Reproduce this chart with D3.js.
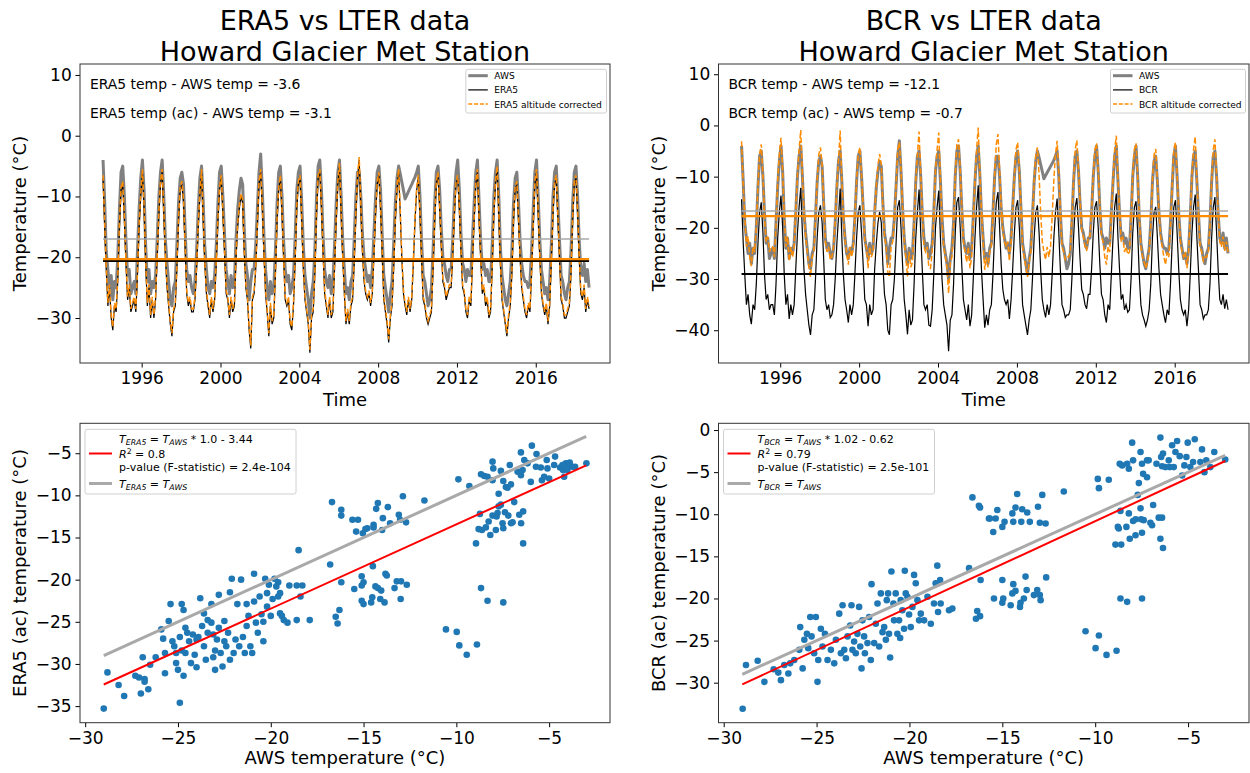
<!DOCTYPE html>
<html>
<head>
<meta charset="utf-8">
<script src="https://cdn.jsdelivr.net/npm/d3@7"></script>
<style>
  body { margin: 0; background: #fff; }
  svg { display: block; }
</style>
</head>
<body>
<div id="chart"></div>
<script>
// Monthly temperatures, Jan 1994 - Sep 2018 (one row per year)
var awsTemp = [
  -4, -11, -19, -22, -25, -23, -27, -24, -25, -20, -12, -6,
  -5, -10, -17, -23, -22, -26, -25, -24, -26, -19, -12, -7,
  -4, -9, -18, -24, -22, -26, -24, -25, -23, -17, -10, -6,
  -4, -10, -17, -21, -24, -27, -28, -25, -24, -18, -11, -7,
  -6, -8, -15, -22, -24, -23, -25, -26, -24, -19, -12, -7,
  -5, -11, -18, -22, -25, -26, -24, -25, -23, -18, -11, -6,
  -5, -10, -16, -22, -24, -26, -23, -25, -24, -17, -12, -9,
  -7, -8, -15, -21, -23, -27, -24, -22, -22, -18, -12, -6,
  -3, -9, -16, -22, -25, -27, -24, -26, -25, -19, -11, -6,
  -5, -10, -17, -22, -24, -23, -26, -25, -23, -17, -9, -6,
  -5, -11, -18, -23, -25, -27, -30, -26, -24, -19, -10, -5,
  -4, -9, -16, -22, -24, -25, -23, -26, -24, -18, -11, -6,
  -4, -10, -17, -22, -26, -25, -27, -24, -23, -17, -10, -6,
  -6, -10, -16, -20, -22, -24, -23, -25, -22, -16, -10, -6,
  -5, -9, -16, -23, -25, -27, -29, -26, -24, -18, -11, -7,
  -5, -6.3, -7.6, -9, -10.4, -9.8, -9.2, -8.6, -8, -7.4, -6.8, -6,
  -5, -10, -17, -23, -24, -26, -28, -27, -25, -19, -11, -6,
  -5, -9, -15, -20, -21, -23, -24, -22, -22, -17, -10, -6,
  -4, -9, -16, -21, -22, -24, -22, -23, -23, -17, -11, -6,
  -4, -11, -17, -22, -21, -23, -22, -24, -24, -18, -10, -6,
  -4, -10, -18, -23, -25, -27, -28, -26, -24, -19, -11, -7,
  -6, -11, -17, -21, -23, -24, -24, -25, -24, -19, -12, -6,
  -4, -10, -17, -22, -24, -26, -25, -27, -24, -18, -10, -6,
  -5, -11, -17, -23, -24, -26, -27, -25, -24, -19, -11, -6,
  -5, -10, -17, -22, -23, -21, -24, -22, -25
];

var era5Temp = [
  -7, -15, -22, -28, -25, -30, -32, -28, -29, -24, -15, -9,
  -8, -14, -21, -27, -25, -29, -28, -27, -29, -23, -15, -10,
  -6, -12, -21, -28, -25, -30, -27, -30, -27, -20, -13, -8,
  -6, -13, -20, -25, -28, -31, -33, -29, -28, -22, -14, -9,
  -8, -11, -18, -26, -28, -27, -29, -29, -27, -22, -15, -10,
  -6, -14, -21, -26, -28, -30, -27, -29, -27, -21, -14, -9,
  -7, -13, -19, -26, -27, -30, -27, -29, -28, -20, -15, -12,
  -10, -11, -19, -25, -27, -32, -35, -27, -26, -22, -15, -8,
  -6, -12, -19, -26, -29, -33, -28, -31, -30, -23, -14, -9,
  -7, -13, -20, -27, -28, -27, -31, -32, -28, -21, -12, -8,
  -7, -14, -22, -27, -29, -31, -35.7, -30, -29, -23, -13, -7,
  -6, -12, -19, -26, -28, -30, -27, -30, -29, -22, -14, -8,
  -5, -13, -20, -26, -31, -29, -31, -28, -27, -21, -13, -7,
  -4, -12, -19, -24, -26, -27, -26, -28, -26, -20, -13, -8,
  -6.5, -12, -19, -27, -29, -31, -34, -30, -28, -22, -14, -9,
  -6, -13, -20, -26, -28, -29.5, -27, -29, -27, -21, -14, -9,
  -7, -13, -20, -27, -28, -30, -31, -30, -29, -22, -14, -8,
  -6.5, -12, -18, -24, -25, -27, -26, -25, -25, -20, -13, -8,
  -7, -12, -19, -25, -26, -29, -30, -27, -28, -21, -14, -8,
  -6, -14, -20, -26, -25, -28, -27, -30, -29, -22, -13, -8,
  -5.5, -13, -21, -27, -29, -31, -33, -30, -28, -23, -14, -9,
  -8, -14, -20, -25, -27, -29, -30, -28, -29, -23, -15, -8,
  -6, -13, -20, -26, -28, -29.5, -28, -31, -28, -21, -13, -8,
  -7, -14, -20, -27, -28, -30, -30, -29, -28, -23, -14, -8,
  -7, -13, -20, -26, -27, -25, -29, -27, -28.5
];

var era5AcTemp = [
  -6.5, -14.5, -21.5, -27.5, -24.5, -29.5, -31.5, -27.5, -28.5, -23.5, -14.5, -8.5,
  -7.5, -13.5, -20.5, -26.5, -24.5, -28.5, -27.5, -26.5, -28.5, -22.5, -14.5, -9.5,
  -5.5, -11.5, -20.5, -27.5, -24.5, -29.5, -26.5, -29.5, -26.5, -19.5, -12.5, -7.5,
  -5.5, -12.5, -19.5, -24.5, -27.5, -30.5, -32.5, -28.5, -27.5, -21.5, -13.5, -8.5,
  -7.5, -10.5, -17.5, -25.5, -27.5, -26.5, -28.5, -28.5, -26.5, -21.5, -14.5, -9.5,
  -5.5, -13.5, -20.5, -25.5, -27.5, -29.5, -26.5, -28.5, -26.5, -20.5, -13.5, -8.5,
  -6.5, -12.5, -18.5, -25.5, -26.5, -29.5, -26.5, -28.5, -27.5, -19.5, -14.5, -11.5,
  -9.5, -10.5, -18.5, -24.5, -26.5, -31.5, -34.5, -26.5, -25.5, -21.5, -14.5, -7.5,
  -5.5, -11.5, -18.5, -25.5, -28.5, -32.5, -27.5, -30.5, -29.5, -22.5, -13.5, -8.5,
  -6.5, -12.5, -19.5, -26.5, -27.5, -26.5, -30.5, -31.5, -27.5, -20.5, -11.5, -7.5,
  -6.5, -13.5, -21.5, -26.5, -28.5, -30.5, -35.2, -29.5, -28.5, -22.5, -12.5, -6.5,
  -5.5, -11.5, -18.5, -25.5, -27.5, -29.5, -26.5, -29.5, -28.5, -21.5, -13.5, -7.5,
  -4.5, -12.5, -19.5, -25.5, -30.5, -28.5, -30.5, -27.5, -26.5, -20.5, -12.5, -6.5,
  -3.5, -11.5, -18.5, -23.5, -25.5, -26.5, -25.5, -27.5, -25.5, -19.5, -12.5, -7.5,
  -6, -11.5, -18.5, -26.5, -28.5, -30.5, -33.5, -29.5, -27.5, -21.5, -13.5, -8.5,
  -5.5, -12.5, -19.5, -25.5, -27.5, -29, -26.5, -28.5, -26.5, -20.5, -13.5, -8.5,
  -6.5, -12.5, -19.5, -26.5, -27.5, -29.5, -30.5, -29.5, -28.5, -21.5, -13.5, -7.5,
  -6, -11.5, -17.5, -23.5, -24.5, -26.5, -25.5, -24.5, -24.5, -19.5, -12.5, -7.5,
  -6.5, -11.5, -18.5, -24.5, -25.5, -28.5, -29.5, -26.5, -27.5, -20.5, -13.5, -7.5,
  -5.5, -13.5, -19.5, -25.5, -24.5, -27.5, -26.5, -29.5, -28.5, -21.5, -12.5, -7.5,
  -5, -12.5, -20.5, -26.5, -28.5, -30.5, -32.5, -29.5, -27.5, -22.5, -13.5, -8.5,
  -7.5, -13.5, -19.5, -24.5, -26.5, -28.5, -29.5, -27.5, -28.5, -22.5, -14.5, -7.5,
  -5.5, -12.5, -19.5, -25.5, -27.5, -29, -27.5, -30.5, -27.5, -20.5, -12.5, -7.5,
  -6.5, -13.5, -19.5, -26.5, -27.5, -29.5, -29.5, -28.5, -27.5, -22.5, -13.5, -7.5,
  -6.5, -12.5, -19.5, -25.5, -26.5, -24.5, -28.5, -26.5, -28
];

var bcrTemp = [
  -14.4, -23, -29, -35, -33, -37, -38.8, -35, -36, -31, -23, -17,
  -15, -21, -29, -34, -33, -36, -35, -35, -37, -31, -22, -17,
  -13.7, -20, -29, -35, -33, -37.8, -35, -37, -35, -28, -21, -16,
  -12.2, -21, -28, -33, -36, -39, -40.9, -37, -36, -30, -22, -17,
  -15.6, -19, -26, -34, -36, -35, -37.5, -37, -35, -30, -23, -18,
  -12.3, -22, -29, -34, -36, -38.5, -35, -37, -35, -29, -22, -17,
  -15.6, -21, -27, -34, -35, -39.2, -35, -37, -36, -28, -23, -19,
  -16.9, -19, -27, -33, -35, -40, -40.9, -35, -34, -30, -23, -16,
  -14.6, -20, -27, -34, -37, -40.8, -36, -39, -38, -31, -22, -17,
  -12.5, -21, -28, -35, -36, -35, -39, -39.2, -36, -29, -20, -16,
  -12.7, -22, -30, -35, -37, -39, -44.1, -38, -37, -31, -21, -15,
  -14, -20, -27, -34, -36, -38, -35, -39.2, -37, -30, -22, -16,
  -11.7, -21, -28, -34, -39.5, -37, -39, -36, -35, -29, -21, -15,
  -13, -20, -27, -32, -34, -35, -34, -37.8, -34, -28, -21, -16,
  -14.6, -20, -27, -35, -37, -39, -40.9, -38, -36, -30, -22, -17,
  -15.6, -21, -28, -34, -36, -37.5, -35, -37, -35, -29, -22, -17,
  -14.3, -21, -28, -35, -36, -37.5, -37, -37, -36, -30, -22, -16,
  -14.2, -20, -26, -32, -33, -35, -35.8, -33, -33, -28, -21, -16,
  -14.8, -20, -27, -33, -34, -37, -38.5, -35, -36, -29, -22, -16,
  -13.3, -22, -28, -34, -33, -36, -35, -36.5, -36, -30, -21, -16,
  -14.8, -21, -29, -35, -37, -38, -39.2, -38, -36, -31, -22, -17,
  -15.9, -22, -28, -33, -35, -37, -38.5, -36, -37, -31, -23, -16,
  -14.6, -21, -28, -34, -36, -37, -36, -39.2, -36, -29, -21, -16,
  -13.5, -22, -28, -35, -36, -37.8, -37, -37, -36, -31, -22, -16,
  -14, -21, -28, -34, -35, -33, -35.8, -34, -36
];

var bcrAcTemp = [
  -3.1, -11.7, -17.7, -23.7, -21.7, -25.7, -27.5, -23.7, -24.7, -19.7, -11.7, -5.7,
  -3.7, -9.7, -17.7, -22.7, -21.7, -24.7, -23.7, -23.7, -25.7, -19.7, -10.7, -5.7,
  -2.4, -8.7, -17.7, -23.7, -21.7, -26.5, -23.7, -25.7, -23.7, -16.7, -9.7, -4.7,
  -0.9, -9.7, -16.7, -21.7, -24.7, -27.7, -29.6, -25.7, -24.7, -18.7, -10.7, -5.7,
  -4.3, -7.7, -14.7, -22.7, -24.7, -23.7, -26.2, -25.7, -23.7, -18.7, -11.7, -6.7,
  -1.0, -10.7, -17.7, -22.7, -24.7, -27.2, -23.7, -25.7, -23.7, -17.7, -10.7, -5.7,
  -4.3, -9.7, -15.7, -22.7, -23.7, -27.9, -23.7, -25.7, -24.7, -16.7, -11.7, -7.7,
  -5.6, -7.7, -15.7, -21.7, -23.7, -28.7, -29.6, -23.7, -22.7, -18.7, -11.7, -4.7,
  -3.3, -8.7, -15.7, -22.7, -25.7, -29.5, -24.7, -27.7, -26.7, -19.7, -10.7, -5.7,
  -1.2, -9.7, -16.7, -23.7, -24.7, -23.7, -27.7, -27.9, -24.7, -17.7, -8.7, -4.7,
  -1.4, -10.7, -18.7, -23.7, -25.7, -27.7, -32.8, -26.7, -25.7, -19.7, -9.7, -3.7,
  -2.7, -8.7, -15.7, -22.7, -24.7, -26.7, -23.7, -27.9, -25.7, -18.7, -10.7, -4.7,
  -0.4, -9.7, -16.7, -22.7, -28.2, -25.7, -27.7, -24.7, -23.7, -17.7, -9.7, -3.7,
  -1.7, -8.7, -15.7, -20.7, -22.7, -23.7, -22.7, -26.5, -22.7, -16.7, -9.7, -4.7,
  -3.3, -8.7, -15.7, -23.7, -25.7, -27.7, -29.6, -26.7, -24.7, -18.7, -10.7, -5.7,
  -4.3, -9.7, -16.7, -22.7, -24.7, -26.2, -23.7, -25.7, -23.7, -17.7, -10.7, -5.7,
  -3.0, -9.7, -16.7, -23.7, -24.7, -26.2, -25.7, -25.7, -24.7, -18.7, -10.7, -4.7,
  -2.9, -8.7, -14.7, -20.7, -21.7, -23.7, -24.5, -21.7, -21.7, -16.7, -9.7, -4.7,
  -3.5, -8.7, -15.7, -21.7, -22.7, -25.7, -27.2, -23.7, -24.7, -17.7, -10.7, -4.7,
  -2.0, -10.7, -16.7, -22.7, -21.7, -24.7, -23.7, -25.2, -24.7, -18.7, -9.7, -4.7,
  -3.5, -9.7, -17.7, -23.7, -25.7, -26.7, -27.9, -26.7, -24.7, -19.7, -10.7, -5.7,
  -4.6, -10.7, -16.7, -21.7, -23.7, -25.7, -27.2, -24.7, -25.7, -19.7, -11.7, -4.7,
  -3.3, -9.7, -16.7, -22.7, -24.7, -25.7, -24.7, -27.9, -24.7, -17.7, -9.7, -4.7,
  -2.2, -10.7, -16.7, -23.7, -24.7, -26.5, -25.7, -25.7, -24.7, -19.7, -10.7, -4.7,
  -2.7, -9.7, -16.7, -22.7, -23.7, -21.7, -24.5, -22.7, -24.7
];

// Series means (horizontal lines)
var era5PanelMeans = {aws: -17.0, model: -20.6, ac: -20.3};
var bcrPanelMeans = {aws: -16.7, model: -29.0, ac: -17.7};

// Scatter: [AWS temperature, corrected reanalysis temperature]
var era5Scatter = [
  [-29.0,-35.3],[-28.8,-31.0],[-28.2,-32.5],[-27.9,-33.8],[-27.3,-31.4],[-27.1,-31.6],[-26.8,-31.8],[-26.8,-32.1],
  [-27.0,-33.5],[-26.6,-33.0],[-26.9,-29.2],[-26.5,-30.1],[-26.2,-29.2],[-25.9,-25.9],[-25.8,-27.0],[-25.7,-28.7],
  [-25.7,-31.1],[-25.5,-24.9],[-25.4,-22.9],[-25.2,-27.9],[-25.3,-27.3],[-25.1,-29.9],[-25.1,-28.7],[-25.0,-30.7],
  [-24.9,-34.6],[-24.9,-26.8],[-24.8,-28.4],[-24.8,-22.9],[-24.7,-23.6],[-24.7,-31.4],[-24.6,-25.7],[-24.6,-28.7],
  [-24.5,-26.3],[-24.4,-27.3],[-24.3,-29.9],[-24.2,-26.5],[-24.1,-28.9],[-24.0,-30.4],[-24.0,-27.1],[-23.9,-26.8],
  [-23.8,-22.2],[-23.7,-25.5],[-23.6,-24.0],[-23.6,-27.9],[-23.5,-29.5],[-23.4,-24.8],[-23.4,-26.3],[-23.2,-22.9],
  [-23.2,-25.1],[-23.1,-29.2],[-23.1,-26.5],[-23.0,-28.4],[-23.0,-30.7],[-22.9,-27.1],[-22.8,-21.8],[-22.8,-25.7],
  [-22.7,-28.7],[-22.6,-30.3],[-22.5,-24.9],[-22.5,-27.3],[-22.4,-27.9],[-22.3,-26.3],[-22.2,-29.5],[-22.2,-21.5],
  [-22.1,-19.9],[-22.0,-28.7],[-21.9,-27.1],[-21.8,-22.9],[-21.7,-27.9],[-21.6,-20.0],[-21.5,-26.8],[-21.4,-28.7],
  [-21.3,-25.5],[-21.3,-22.9],[-21.2,-24.3],[-21.1,-27.9],[-21.0,-28.7],[-20.9,-19.3],[-20.9,-22.6],[-20.8,-25.1],
  [-20.7,-26.3],[-20.6,-22.0],[-20.5,-24.1],[-20.4,-27.3],[-20.4,-25.0],[-20.3,-19.9],[-20.2,-21.6],[-20.2,-23.2],
  [-20.1,-20.6],[-20.0,-24.3],[-19.9,-22.3],[-19.8,-19.9],[-19.7,-20.8],[-19.6,-22.0],[-19.6,-20.3],[-19.5,-24.0],
  [-19.5,-21.6],[-19.4,-24.3],[-19.3,-24.8],[-19.1,-25.1],[-19.0,-20.7],[-18.6,-24.8],[-18.6,-20.7],[-18.5,-16.5],
  [-18.4,-22.0],[-18.3,-20.7],[-17.9,-24.8],[-16.8,-18.2],[-16.7,-10.8],[-16.2,-11.7],[-16.2,-12.4],[-15.6,-12.9],
  [-15.3,-12.9],[-15.4,-14.3],[-14.8,-13.9],[-16.5,-24.4],[-16.4,-25.2],[-16.3,-23.6],[-16.2,-20.3],[-15.5,-21.1],
  [-15.1,-20.7],[-15.1,-19.6],[-15.0,-20.3],[-15.1,-22.5],[-15.0,-22.9],
  [-15.04,-14.5],[-14.9,-14.0],[-14.46,-13.5],[-14.46,-13.8],[-14.32,-11.6],[-14.23,-10.9],[-13.96,-12.7],[-14.0,-14.1],
  [-13.69,-11.4],[-13.57,-13.3],[-13.1,-12.3],[-13.03,-12.9],[-12.71,-13.2],[-12.88,-10.1],[-11.72,-10.6],[-9.89,-8.1],
  [-9.3,-8.9],[-14.5,-18.4],[-14.53,-22.1],[-14.59,-22.7],[-14.36,-20.8],[-14.23,-21.0],[-14.05,-21.3],[-14.1,-22.3],
  [-13.87,-22.7],[-13.82,-19.3],[-13.75,-19.5],[-13.33,-21.0],[-13.21,-20.2],[-12.98,-20.2],[-12.67,-20.6],[-13.0,-22.3],
  [-10.56,-25.9],[-9.98,-26.2],[-9.84,-27.8],[-9.44,-28.9],[-8.89,-27.7],[-8.67,-21.0],[-8.32,-22.5],[-7.47,-22.7],
  [-8.94,-15.7],[-8.8,-14.0],[-8.73,-12.2],[-8.62,-14.1],[-8.41,-13.8],[-8.17,-14.7],[-8.26,-13.1],[-8.05,-12.4],
  [-7.87,-14.1],[-7.83,-12.5],[-7.78,-12.1],[-7.72,-11.3],[-7.6,-11.1],[-7.51,-13.3],[-7.47,-13.9],[-7.38,-12.0],
  [-7.2,-12.4],[-7.06,-13.3],[-6.97,-13.2],[-6.88,-10.8],[-6.61,-12.3],[-6.51,-13.3],[-6.4,-11.9],[-6.4,-15.7],
  [-7.72,-9.8],[-8.67,-7.5],[-8.49,-7.7],[-8.32,-7.8],[-8.05,-6.0],[-8.01,-6.8],[-8.05,-8.2],[-7.6,-7.1],
  [-7.47,-8.3],[-7.33,-9.0],[-7.24,-9.1],[-7.12,-6.4],[-7.06,-8.7],[-6.7,-7.2],[-6.52,-7.6],[-6.52,-4.9],
  [-6.43,-7.0],[-6.34,-5.8],[-6.16,-6.2],[-5.99,-8.4],[-5.93,-4.1],[-5.68,-5.1],[-5.71,-6.6],[-5.45,-6.7],
  [-5.39,-8.2],[-5.27,-7.8],[-5.13,-5.8],[-5.09,-6.8],[-5.0,-8.0],[-4.73,-6.4],[-4.68,-5.4],[-4.41,-6.7],
  [-4.25,-7.0],[-4.19,-7.8],[-4.1,-6.2],[-3.96,-6.6],[-3.89,-6.1],[-3.75,-6.6],[-3.6,-6.6],[-2.99,-6.2],
  [-4.28,-6.4],[-4.02,-7.0]
];

var bcrScatter = [
  [-28.98,-33.1],[-28.8,-27.9],[-28.17,-27.4],[-27.81,-29.9],[-27.31,-28.4],[-27.06,-28.8],[-26.92,-29.7],[-26.74,-27.9],
  [-26.52,-28.9],[-26.42,-27.7],[-26.2,-27.3],[-25.93,-26.1],[-25.88,-23.4],[-25.75,-28.3],[-25.66,-24.9],[-25.52,-24.2],
  [-25.45,-25.9],[-25.34,-22.2],[-25.27,-24.5],[-25.13,-26.5],[-25.04,-22.2],[-24.95,-29.9],[-24.91,-27.3],[-24.77,-23.6],
  [-24.68,-25.7],[-24.55,-24.2],[-24.41,-27.3],[-24.23,-26.1],[-24.05,-27.7],[-23.96,-24.9],[-23.78,-21.8],[-23.69,-26.5],
  [-23.6,-20.8],[-23.51,-26.1],[-23.42,-27.1],[-23.33,-24.5],[-23.19,-23.2],[-23.12,-20.8],[-23.07,-26.1],[-22.98,-25.1],
  [-22.89,-26.5],[-22.8,-24.2],[-22.71,-21.0],[-22.65,-25.7],[-22.58,-28.3],[-22.53,-22.6],[-22.44,-24.5],[-22.4,-26.5],
  [-22.26,-25.3],[-22.17,-22.2],[-22.08,-27.3],[-22.04,-18.3],[-21.9,-25.3],[-21.81,-23.0],[-21.72,-20.6],[-21.63,-25.7],
  [-21.54,-19.4],[-21.45,-24.0],[-21.36,-23.4],[-21.27,-24.9],[-21.22,-20.2],[-21.15,-19.4],[-21.1,-24.2],[-21.04,-27.0],
  [-20.97,-16.8],[-20.86,-20.6],[-20.83,-22.6],[-20.74,-19.4],[-20.65,-24.2],[-20.56,-22.6],[-20.5,-24.7],[-20.47,-20.2],
  [-20.38,-21.4],[-20.29,-23.6],[-20.25,-16.7],[-20.2,-19.4],[-20.11,-19.8],[-20.02,-21.9],[-19.93,-23.4],[-19.84,-21.0],
  [-19.75,-17.2],[-19.66,-18.2],[-19.57,-20.2],[-19.48,-22.6],[-19.39,-21.8],[-19.21,-22.6],[-19.03,-19.8],[-18.85,-23.0],
  [-18.68,-20.6],[-18.59,-18.2],[-18.5,-16.1],[-18.46,-21.6],[-18.35,-17.8],[-18.32,-20.6],[-17.87,-21.4],[-17.69,-21.2],
  [-16.79,-16.4],[-16.17,-17.8],[-16.35,-21.5],[-16.42,-22.4],[-16.2,-22.1],[-16.61,-8.0],[-16.26,-9.0],[-16.2,-9.2],
  [-15.72,-10.5],[-15.67,-10.5],[-15.36,-10.5],[-15.27,-9.5],[-15.49,-12.1],[-15.0,-11.5],[-14.88,-10.9],[-14.46,-9.9],
  [-14.41,-10.9],[-14.29,-9.2],[-14.2,-7.6],[-13.98,-10.9],[-13.93,-9.4],[-13.66,-9.8],[-13.52,-10.9],[-13.08,-9.1],
  [-12.98,-11.0],[-12.85,-7.7],[-12.67,-11.1],[-11.69,-7.3],
  [-15.45,-20.0],[-15.0,-17.8],[-15.0,-20.5],[-14.95,-20.0],[-14.55,-20.8],[-14.41,-18.3],[-14.46,-19.4],[-14.29,-19.1],
  [-14.05,-21.0],[-14.02,-20.5],[-13.84,-20.0],[-13.75,-17.4],[-13.69,-19.0],[-13.3,-19.6],[-13.12,-19.0],[-12.98,-19.6],
  [-12.94,-20.2],[-12.64,-17.5],
  [-10.52,-23.9],[-9.8,-24.4],[-9.98,-25.9],[-9.39,-26.7],[-8.85,-26.2],[-8.64,-20.0],[-8.28,-20.4],[-7.48,-20.0],
  [-9.86,-5.8],[-9.8,-6.9],[-9.27,-5.9],[-8.91,-13.6],[-8.6,-13.6],[-8.73,-11.7],[-8.78,-11.5],[-8.64,-9.6],
  [-8.32,-11.5],[-8.14,-12.9],[-8.19,-9.9],[-7.96,-10.8],[-7.83,-12.5],[-7.82,-10.6],[-7.71,-7.7],[-7.65,-6.3],
  [-7.56,-9.3],[-7.53,-10.6],[-7.48,-12.2],[-7.42,-5.2],[-7.39,-10.7],[-7.21,-5.6],[-7.03,-11.0],[-6.94,-11.3],
  [-6.88,-8.9],[-6.58,-10.4],[-6.49,-12.9],[-6.4,-10.4],[-6.35,-14.0],
  [-8.68,-4.0],[-8.55,-4.2],[-8.28,-4.0],[-8.19,-4.6],[-8.01,-1.5],[-7.96,-3.6],[-7.56,-2.6],[-7.48,-4.0],
  [-7.21,-3.6],[-7.12,-3.6],[-6.7,-4.0],[-6.49,-0.9],[-6.45,-3.2],[-6.35,-2.8],[-6.4,-4.3],[-6.22,-4.4],
  [-6.04,-3.6],[-5.99,-4.4],[-5.86,-1.8],[-5.68,-2.6],[-5.77,-4.4],[-5.59,-1.3],[-5.45,-3.1],[-5.32,-5.4],
  [-5.2,-4.2],[-5.09,-3.2],[-5.02,-1.5],[-4.88,-4.4],[-4.73,-3.8],[-4.64,-1.1],[-4.34,-3.8],[-4.25,-2.3],
  [-4.12,-5.0],[-4.02,-3.6],[-3.8,-4.4],[-3.59,-2.6],[-3.0,-3.5]
];

// Regression fits (slope, intercept) and the AWS range they cover
var era5Fit = [1.0, -3.44];
var bcrFit = [1.02, -0.62];
var fitRange = [-29, -3];

var timeTickYears = [1996, 2000, 2004, 2008, 2012, 2016];
var scatterXTicks = [-30, -25, -20, -15, -10, -5];

// ---- layout ----
var FONT = "DejaVu Sans, sans-serif";
var width = 1250, height = 773;
var cols = [{x0: 80, x1: 610}, {x0: 718.5, x1: 1249}];
var topRow = {y0: 64, y1: 363};
var botRow = {y0: 423.3, y1: 722.7};
var colors = {aws: "#808080", model: "#000000", ac: "#ff8c00", awsMean: "#a8a8a8", dot: "#1f77b4", fit: "#ff0000", oneToOne: "#a9a9a9"};

var months = d3.range(awsTemp.length).map((i) => new Date(1994, i, 15));

var svg = d3.select("#chart").append("svg")
            .attr("width", width).attr("height", height)
            .style("font-family", FONT);

function styleAxis(g) {
  g.select(".domain").remove();
  g.selectAll(".tick line").attr("stroke", "#000").attr("stroke-width", 1);
  g.selectAll(".tick text").attr("fill", "#000").attr("font-size", 17).attr("font-family", FONT);
}

function frame(c, row) {
  svg.append("rect")
     .attr("x", c.x0).attr("y", row.y0)
     .attr("width", c.x1 - c.x0).attr("height", row.y1 - row.y0)
     .attr("fill", "none").attr("stroke", "#333").attr("stroke-width", 1);
}

function yLabel(x, row, label) {
  svg.append("text")
     .attr("transform", "translate(" + x + "," + ((row.y0 + row.y1) / 2) + ") rotate(-90)")
     .attr("text-anchor", "middle").attr("font-size", 18)
     .text(label);
}

function timePanel(c, p) {
  var x = d3.scaleTime().domain([new Date(1992, 10, 14), new Date(2019, 9, 8)]).range([c.x0, c.x1]);
  var y = d3.scaleLinear().domain(p.yDomain).range([topRow.y1, topRow.y0]);

  svg.append("g").attr("transform", "translate(0," + topRow.y1 + ")")
     .call(d3.axisBottom(x).tickValues(timeTickYears.map((yr) => new Date(yr, 0, 1)))
             .tickFormat(d3.timeFormat("%Y")).tickSize(4.5).tickPadding(4.9))
     .call(styleAxis);
  svg.append("g").attr("transform", "translate(" + c.x0 + ",0)")
     .call(d3.axisLeft(y).tickValues(p.yTicks).tickSize(4.5).tickPadding(3.8))
     .call(styleAxis);

  var line = d3.line().x((d, i) => x(months[i])).y((d) => y(d));

  svg.append("path").datum(awsTemp).attr("d", line)
     .attr("fill", "none").attr("stroke", colors.aws).attr("stroke-width", 3).attr("stroke-linejoin", "round");
  svg.append("path").datum(p.model).attr("d", line)
     .attr("fill", "none").attr("stroke", colors.model).attr("stroke-width", 1.2);
  svg.append("path").datum(p.ac).attr("d", line)
     .attr("fill", "none").attr("stroke", colors.ac).attr("stroke-width", 1.5)
     .style("stroke-dasharray", "5.5,2.4");

  // mean lines over the data period
  var t0 = x(months[0]), t1 = x(months[months.length - 1]);
  [["aws", colors.awsMean, 1.5], ["model", colors.model, 2], ["ac", colors.ac, 2.3]].forEach(function(m) {
    svg.append("line")
       .attr("x1", t0).attr("x2", t1)
       .attr("y1", y(p.means[m[0]])).attr("y2", y(p.means[m[0]]))
       .attr("stroke", m[1]).attr("stroke-width", m[2]);
  });

  frame(c, topRow);

  // notes
  p.notes.forEach(function(n, i) {
    svg.append("text").attr("x", c.x0 + 10).attr("y", 89 + i * 29)
       .attr("font-size", 13.9).text(n);
  });

  // legend
  var lx = c.x1 - 3.5 - p.legendW;
  svg.append("rect").attr("x", lx).attr("y", 69.3).attr("width", p.legendW).attr("height", 43.7)
     .attr("rx", 2).attr("fill", "#fff").attr("fill-opacity", 0.8).attr("stroke", "#d0d0d0");
  var styles = [[colors.aws, 3, null], [colors.model, 1.2, null], [colors.ac, 1.5, "4,1.8"]];
  p.legend.forEach(function(k, i) {
    var ly = 75.7 + i * 14.2;
    var l = svg.append("line").attr("x1", lx + 2.5).attr("x2", lx + 22)
               .attr("y1", ly).attr("y2", ly)
               .attr("stroke", styles[i][0]).attr("stroke-width", styles[i][1]);
    if (styles[i][2]) l.style("stroke-dasharray", styles[i][2]);
    svg.append("text").attr("x", lx + 28.5).attr("y", ly + 3.4).attr("font-size", 9.1).text(k);
  });

  // titles and labels
  var cx = (c.x0 + c.x1) / 2;
  p.title.forEach(function(t, i) {
    svg.append("text").attr("x", cx).attr("y", 30 + i * 30.5)
       .attr("text-anchor", "middle").attr("font-size", 27).text(t);
  });
  svg.append("text").attr("x", cx).attr("y", 405.5).attr("text-anchor", "middle")
     .attr("font-size", 18).text("Time");
  yLabel(p.ylabelX, topRow, "Temperature (°C)");
}

function mathT(t, sub) {
  t.append("tspan").attr("font-style", "italic").text("T");
  t.append("tspan").attr("font-style", "italic").attr("font-size", 7.8).attr("dy", 2.6).text(sub);
}

function scatterPanel(c, p) {
  var x = d3.scaleLinear().domain([-30.28, -1.72]).range([c.x0, c.x1]);
  var y = d3.scaleLinear().domain(p.yDomain).range([botRow.y1, botRow.y0]);

  svg.append("g").attr("transform", "translate(0," + botRow.y1 + ")")
     .call(d3.axisBottom(x).tickValues(scatterXTicks).tickSize(4.5).tickPadding(4.9))
     .call(styleAxis);
  svg.append("g").attr("transform", "translate(" + c.x0 + ",0)")
     .call(d3.axisLeft(y).tickValues(p.yTicks).tickSize(4.5).tickPadding(3.8))
     .call(styleAxis);

  svg.append("g").selectAll("circle").data(p.points).enter()
     .append("circle")
     .attr("cx", (d) => x(d[0])).attr("cy", (d) => y(d[1])).attr("r", 3.3)
     .attr("fill", colors.dot);

  svg.append("line")
     .attr("x1", x(fitRange[0])).attr("y1", y(fitRange[0] * p.fit[0] + p.fit[1]))
     .attr("x2", x(fitRange[1])).attr("y2", y(fitRange[1] * p.fit[0] + p.fit[1]))
     .attr("stroke", colors.fit).attr("stroke-width", 2);
  svg.append("line")
     .attr("x1", x(fitRange[0])).attr("y1", y(fitRange[0]))
     .attr("x2", x(fitRange[1])).attr("y2", y(fitRange[1]))
     .attr("stroke", colors.oneToOne).attr("stroke-width", 3);

  frame(c, botRow);

  // legend
  var bx = c.x0 + 5;
  svg.append("rect").attr("x", bx).attr("y", 429.3).attr("width", 211).attr("height", 64.7)
     .attr("rx", 2).attr("fill", "#fff").attr("fill-opacity", 0.8).attr("stroke", "#d0d0d0");
  svg.append("line").attr("x1", bx + 4).attr("x2", bx + 27).attr("y1", 453.5).attr("y2", 453.5)
     .attr("stroke", colors.fit).attr("stroke-width", 2);
  svg.append("line").attr("x1", bx + 4).attr("x2", bx + 27).attr("y1", 483.5).attr("y2", 483.5)
     .attr("stroke", colors.oneToOne).attr("stroke-width", 3);

  var tx = bx + 34;
  var t1 = svg.append("text").attr("x", tx).attr("y", 442.5).attr("font-size", 11);
  mathT(t1, p.sub);
  t1.append("tspan").attr("dy", -2.6).text(" = ");
  mathT(t1, "AWS");
  t1.append("tspan").attr("dy", -2.6).text(" * ");
  t1.append("tspan").text(" " + p.eq);

  var t2 = svg.append("text").attr("x", tx).attr("y", 458).attr("font-size", 11);
  t2.append("tspan").attr("font-style", "italic").text("R");
  t2.append("tspan").attr("font-size", 7.8).attr("dy", -4.5).text("2");
  t2.append("tspan").attr("dy", 4.5).text(" = " + p.r2);

  svg.append("text").attr("x", tx).attr("y", 470.5).attr("font-size", 11).text(p.pval);

  var t4 = svg.append("text").attr("x", tx).attr("y", 487.5).attr("font-size", 11);
  mathT(t4, p.sub);
  t4.append("tspan").attr("dy", -2.6).text(" = ");
  mathT(t4, "AWS");

  svg.append("text").attr("x", (c.x0 + c.x1) / 2).attr("y", 764).attr("text-anchor", "middle")
     .attr("font-size", 18).text("AWS temperature (°C)");
  yLabel(p.ylabelX, botRow, p.ylabel);
}

timePanel(cols[0], {
  yDomain: [-37.4, 11.8], yTicks: [-30, -20, -10, 0, 10],
  model: era5Temp, ac: era5AcTemp, means: era5PanelMeans,
  title: ["ERA5 vs LTER data", "Howard Glacier Met Station"],
  notes: ["ERA5 temp - AWS temp = -3.6", "ERA5 temp (ac) - AWS temp = -3.1"],
  legend: ["AWS", "ERA5", "ERA5 altitude corrected"], legendW: 140.7, ylabelX: 26
});
timePanel(cols[1], {
  yDomain: [-46.4, 12.0], yTicks: [-40, -30, -20, -10, 0, 10],
  model: bcrTemp, ac: bcrAcTemp, means: bcrPanelMeans,
  title: ["BCR vs LTER data", "Howard Glacier Met Station"],
  notes: ["BCR temp - AWS temp = -12.1", "BCR temp (ac) - AWS temp = -0.7"],
  legend: ["AWS", "BCR", "BCR altitude corrected"], legendW: 135, ylabelX: 665
});
scatterPanel(cols[0], {
  yDomain: [-36.97, -1.45], yTicks: [-35, -30, -25, -20, -15, -10, -5],
  points: era5Scatter, fit: era5Fit, sub: "ERA5", eq: "1.0 - 3.44", r2: "0.8",
  pval: "p-value (F-statistic) = 2.4e-104", ylabel: "ERA5 (ac) temperature (°C)", ylabelX: 26
});
scatterPanel(cols[1], {
  yDomain: [-34.75, 0.8], yTicks: [-30, -25, -20, -15, -10, -5, 0],
  points: bcrScatter, fit: bcrFit, sub: "BCR", eq: "1.02 - 0.62", r2: "0.79",
  pval: "p-value (F-statistic) = 2.5e-101", ylabel: "BCR (ac) temperature (°C)", ylabelX: 665
});
</script>
</body>
</html>
